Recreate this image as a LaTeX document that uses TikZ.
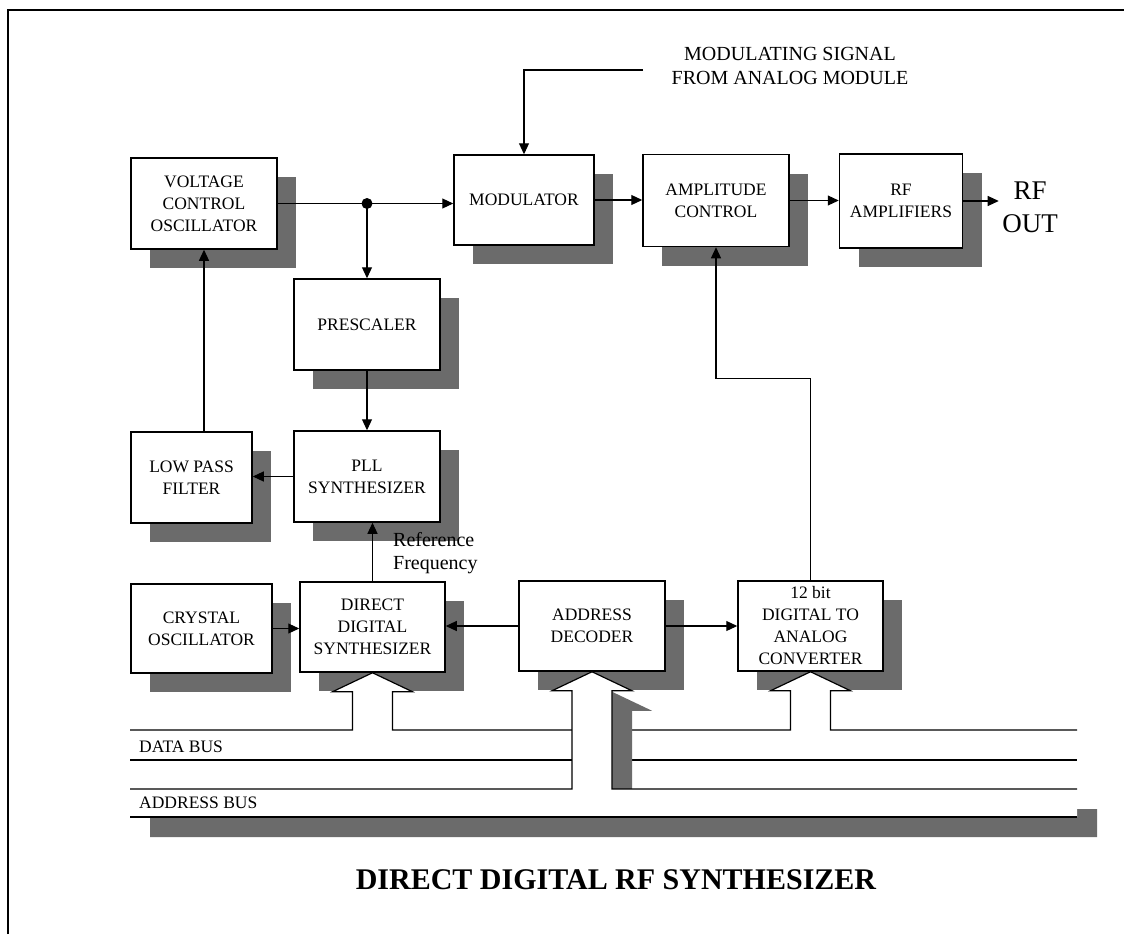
\documentclass[tikz,border=0pt]{standalone}
\usepackage{fontspec}
\setmainfont{Liberation Serif}
\usetikzlibrary{arrows.meta,calc,shadows}
\definecolor{shade}{gray}{0.42}

\begin{document}
\begin{tikzpicture}[
  x=1pt, y=-1pt,
  font=\fontsize{17.5}{22}\selectfont,
  blk/.style={draw, line width=1.5pt, fill=white, align=center, inner sep=2pt,
              minimum width=146pt, minimum height=91pt,
              drop shadow={shadow xshift=19pt, shadow yshift=-19pt, fill=shade, opacity=1}},
  arr/.style={-{Triangle[length=11pt,width=10pt]}, line width=1.1pt},
  bus/.style={line width=1.2pt}
]
\useasboundingbox (0,0) rectangle (1124,934);
% frame
\draw[line width=1.5pt] (8,934) -- (8,10) -- (1124,10);

% blocks
\node[blk] (vco) at (204,203.5) {VOLTAGE\\CONTROL\\OSCILLATOR};
\node[blk, minimum width=140pt, minimum height=90pt] (mod) at (524,200) {MODULATOR};
\node[blk, minimum height=92pt] (amp) at (716,200.5) {AMPLITUDE\\CONTROL};
\node[blk, minimum width=123pt, minimum height=94pt] (rf) at (901,201) {RF\\AMPLIFIERS};
\node[blk] (pre) at (367,324.5) {PRESCALER};
\node[blk, minimum width=121pt] (lpf) at (191.5,477.5) {LOW PASS\\FILTER};
\node[blk] (pll) at (367,476.5) {PLL\\SYNTHESIZER};
\node[blk, minimum width=141pt, minimum height=89pt] (xtal) at (201.5,628.5) {CRYSTAL\\OSCILLATOR};
\node[blk, minimum width=145pt, minimum height=90pt] (dds) at (372.5,627) {DIRECT\\DIGITAL\\SYNTHESIZER};
\node[blk, minimum height=90pt] (dec) at (592,626) {ADDRESS\\DECODER};
\node[blk, minimum width=145pt, minimum height=90pt] (dac) at (810.5,626) {12 bit\\DIGITAL TO\\ANALOG\\CONVERTER};

% labels
\node[font=\fontsize{20}{24}\selectfont, align=center] (msig) at (790,66) {MODULATING SIGNAL\\FROM ANALOG MODULE};
\node[font=\fontsize{27}{33}\selectfont, align=center] (out) at (1030,207) {RF\\OUT};
\node[font=\fontsize{20}{23}\selectfont, align=left, anchor=west, inner sep=0pt] (ref) at (393,553) {Reference\\Frequency};
\node[font=\fontsize{30}{36}\selectfont\bfseries] (title) at (616,880) {DIRECT DIGITAL RF SYNTHESIZER};

% signal path
\coordinate (jn) at (pre.north |- vco.east);
\draw[arr] (vco.east) -- (vco.east -| mod.west);
\fill (jn) circle (5.5);
\draw[arr] (jn) -- (pre.north);
\draw[arr] ($(msig.west)+(-25,4)$) -| (mod.north);
\draw[arr] (mod.east) -- (mod.east -| amp.west);
\draw[arr] (amp.east) -- (amp.east -| rf.west);
\draw[arr] (rf.east) -- (rf.east -| out.west);
\draw[arr] (pre.south) -- (pll.north);
\draw[arr] (pll.west) -- (pll.west -| lpf.east);
\draw[arr] (vco.south |- lpf.north) -- (vco.south);
\draw[arr] (dds.north) -- (dds.north |- pll.south);
\draw[arr] (xtal.east) -- (xtal.east -| dds.west);
\draw[arr] (dec.west) -- (dec.west -| dds.east);
\draw[arr] (dec.east) -- (dec.east -| dac.west);
\draw[arr] (dac.north) |- ($(amp.south)+(0,131)$) -- (amp.south);

% buses
\coordinate (dbL) at (130,730);  \coordinate (dbR) at (1077,730);
\coordinate (dbL2) at (130,760); \coordinate (dbR2) at (1077,760);
\coordinate (abL) at (130,789);  \coordinate (abR) at (1077,789);
\coordinate (abL2) at (130,817); \coordinate (abR2) at (1077,817);
\foreach \n in {dds,dec,dac} {
  \coordinate (\n-a) at (\n.south);
  \coordinate (\n-wl) at ($(\n.south)+(-40,19)$);
  \coordinate (\n-wr) at ($(\n.south)+(40,19)$);
  \coordinate (\n-sl) at ($(\n.south)+(-20,19)$);
  \coordinate (\n-sr) at ($(\n.south)+(20,19)$);
}
% DDS onto data bus
\fill[white] (dds-sl) -- (dds-wl) -- (dds-a) -- (dds-wr) -- (dds-sr) -- (dds-sr |- dbL) -- (dds-sl |- dbL) -- cycle;
\draw[bus] (dbL) -- (dds-sl |- dbL) -- (dds-sl) -- (dds-wl) -- (dds-a) -- (dds-wr) -- (dds-sr)
  -- (dds-sr |- dbL) -- (dec-sl |- dbL);
\draw[bus] (dbL2) -- (dec-sl |- dbL2);
% DAC onto data bus
\fill[white] (dac-sl) -- (dac-wl) -- (dac-a) -- (dac-wr) -- (dac-sr) -- (dac-sr |- dbR) -- (dac-sl |- dbR) -- cycle;
\draw[bus] (dec-sr |- dbR) -- (dac-sl |- dbR) -- (dac-sl) -- (dac-wl) -- (dac-a) -- (dac-wr) -- (dac-sr)
  -- (dac-sr |- dbR) -- (dbR);
\draw[bus] (dec-sr |- dbR2) -- (dbR2);
% address decoder onto address bus
\path[fill=white, drop shadow={shadow xshift=20pt, shadow yshift=-20pt, fill=shade, opacity=1}]
  (abL) -- (dec-sl |- abL) -- (dec-sl) -- (dec-wl) -- (dec-a) -- (dec-wr) -- (dec-sr)
  -- (dec-sr |- abR) -- (abR) -- (abR2) -- (abL2) -- cycle;
\draw[bus] (abL) -- (dec-sl |- abL) -- (dec-sl) -- (dec-wl) -- (dec-a) -- (dec-wr) -- (dec-sr)
  -- (dec-sr |- abR) -- (abR);
\draw[line width=1.6pt] (abL2) -- (abR2);

% bus names
\node[anchor=west, inner sep=0pt] (dbus) at (139,747) {DATA BUS};
\node[anchor=west, inner sep=0pt] (abus) at (139,803) {ADDRESS BUS};
\end{tikzpicture}
\end{document}
